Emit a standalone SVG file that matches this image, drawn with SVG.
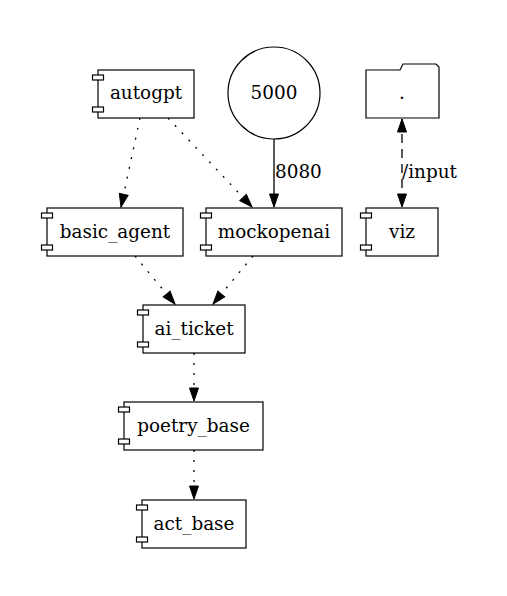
<svg xmlns="http://www.w3.org/2000/svg" width="507" height="596" viewBox="0 0 507 596">
<style>
text{font-family:"DejaVu Serif","Liberation Serif",serif;font-size:18.4px;fill:#000}
.c{text-anchor:middle}
.n{fill:#fff;stroke:#000;stroke-width:1.2}
.e{fill:none;stroke:#000;stroke-width:1.3}
.dot{stroke-dasharray:2,8}
.dash{stroke-dasharray:9,6}
</style>
<defs>
<marker id="ah" markerUnits="userSpaceOnUse" markerWidth="13" markerHeight="9" refX="13" refY="4.5" orient="auto-start-reverse" viewBox="0 0 13 9" overflow="visible">
<path d="M0,0 L13,4.5 L0,9 Z" fill="#000" stroke="#000" stroke-width="1"/>
</marker>
</defs>
<rect width="507" height="596" fill="#fff"/>
<g id="connectors">
<path class="e dot" d="M140,118 L121,207" marker-end="url(#ah)"/>
<path class="e dot" d="M168,118 L252,207" marker-end="url(#ah)"/>
<path class="e" d="M274,139 L274,207" marker-end="url(#ah)"/>
<text x="275" y="178">8080</text>
<path class="e dot" d="M135,256 L175,304" marker-end="url(#ah)"/>
<path class="e dot" d="M253,256 L213,304" marker-end="url(#ah)"/>
<path class="e dot" d="M194,353 L194,401" marker-end="url(#ah)"/>
<path class="e dot" d="M194,450 L194,499" marker-end="url(#ah)"/>
<path class="e dash" d="M402,119 L402,207" marker-start="url(#ah)" marker-end="url(#ah)"/>
<text x="402" y="178">/input</text>
</g>
<g id="autogpt">
<rect x="98" y="70" width="96" height="48" class="n"/>
<rect x="92.5" y="75" width="11" height="5" class="n"/>
<rect x="92.5" y="107" width="11" height="5" class="n"/>
<text x="146" y="99" class="c">autogpt</text>
</g>
<g id="port5000">
<circle cx="274" cy="93" r="46" class="n"/>
<text x="274" y="98.5" class="c">5000</text>
</g>
<g id="folder">
<path d="M366,118 L366,70 L400,70 L403,64 L436,64 L439,67 L439,118 Z" class="n"/>
<text x="402" y="98.5" class="c">.</text>
</g>
<g id="basic_agent">
<rect x="47" y="208" width="136" height="48" class="n"/>
<rect x="41.5" y="213" width="11" height="5" class="n"/>
<rect x="41.5" y="245" width="11" height="5" class="n"/>
<text x="115" y="237.5" class="c">basic_agent</text>
</g>
<g id="mockopenai">
<rect x="206" y="208" width="136" height="48" class="n"/>
<rect x="200.5" y="213" width="11" height="5" class="n"/>
<rect x="200.5" y="245" width="11" height="5" class="n"/>
<text x="274" y="237.5" class="c">mockopenai</text>
</g>
<g id="viz">
<rect x="366" y="208" width="72" height="48" class="n"/>
<rect x="360.5" y="213" width="11" height="5" class="n"/>
<rect x="360.5" y="245" width="11" height="5" class="n"/>
<text x="402" y="237.5" class="c">viz</text>
</g>
<g id="ai_ticket">
<rect x="143" y="305" width="102" height="48" class="n"/>
<rect x="137.5" y="310" width="11" height="5" class="n"/>
<rect x="137.5" y="342" width="11" height="5" class="n"/>
<text x="194" y="334.5" class="c">ai_ticket</text>
</g>
<g id="poetry_base">
<rect x="124" y="402" width="139" height="48" class="n"/>
<rect x="118.5" y="407" width="11" height="5" class="n"/>
<rect x="118.5" y="439" width="11" height="5" class="n"/>
<text x="193.5" y="431.5" class="c">poetry_base</text>
</g>
<g id="act_base">
<rect x="142" y="500" width="104" height="48" class="n"/>
<rect x="136.5" y="505" width="11" height="5" class="n"/>
<rect x="136.5" y="537" width="11" height="5" class="n"/>
<text x="194" y="529.5" class="c">act_base</text>
</g>
</svg>
